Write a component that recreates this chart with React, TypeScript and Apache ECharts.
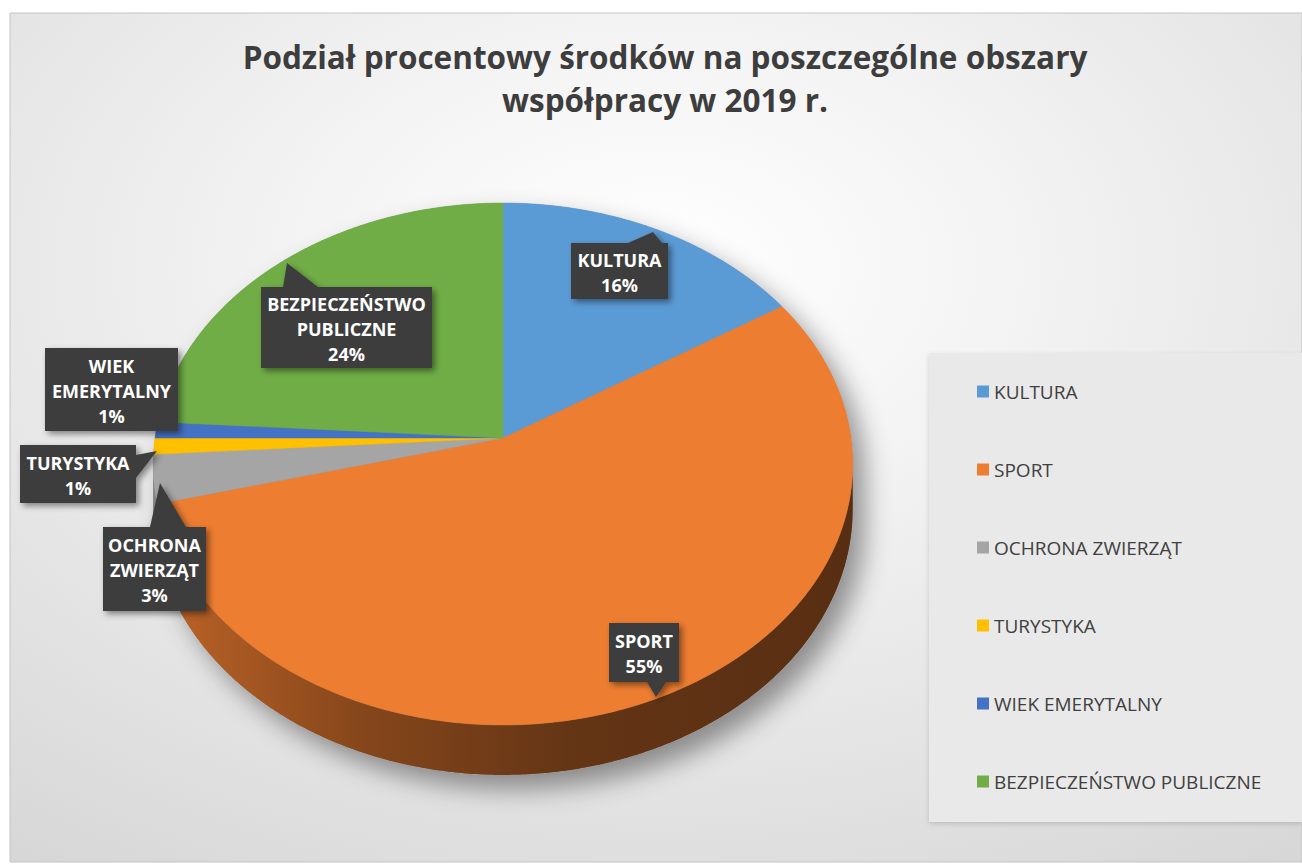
import React, { useEffect, useRef } from 'react';
import * as echarts from 'echarts';

const TITLE_LINES = ['Podział procentowy środków na poszczególne obszary', 'współpracy w 2019 r.'];
const CATEGORIES = ['KULTURA', 'SPORT', 'OCHRONA ZWIERZĄT', 'TURYSTYKA', 'WIEK EMERYTALNY', 'BEZPIECZEŃSTWO PUBLICZNE'];
const VALUES = [16, 55, 3, 1, 1, 24];
const COLORS = ['#5B9BD5', '#ED7D31', '#A5A5A5', '#FFC000', '#4472C4', '#70AD47'];

// callout layout (box x, y, w, h; pointer tip; pointer side and base span)
const CALLOUTS: any[] = [
  { box: [571, 243, 97, 56], tip: [653, 232], side: 'top', span: [628, 662] },
  { box: [609, 623, 70, 59], tip: [656, 697], side: 'bottom', span: [647, 666] },
  { box: [103, 527, 103, 84], tip: [160, 483], side: 'top', span: [150, 186] },
  { box: [20, 445, 116, 58], tip: [157, 451], side: 'right', span: [455, 478] },
  { box: [45, 348, 133, 83], tip: null, side: null, span: null },
  { box: [261, 287, 171, 81], tip: [287, 263], side: 'top', span: [283, 318] },
];

// 3D pie projection
const CX = 503, CY = 438, RX = 348, RY = 258.4, K = 0.0996, DEPTH = 45;
const SIL_R = 95.7, SIL_L = 264.3;

const TOTAL = VALUES.reduce((a, b) => a + b, 0);
const STARTS = VALUES.map((_, i) => VALUES.slice(0, i).reduce((a, b) => a + b, 0));

function P(deg: number, drop = 0): number[] {
  const t = (deg * Math.PI) / 180;
  const s = 1 / (1 + K * Math.cos(t));
  return [CX + RX * Math.sin(t) * s, CY - RY * Math.cos(t) * s + drop * s];
}

function arc(a0: number, a1: number, drop = 0): number[][] {
  const pts: number[][] = [];
  const n = Math.max(2, Math.ceil(Math.abs(a1 - a0) / 0.5));
  for (let k = 0; k <= n; k++) pts.push(P(a0 + ((a1 - a0) * k) / n, drop));
  return pts;
}

function shade(hex: string, f: number): string {
  const n = parseInt(hex.slice(1), 16);
  const r = Math.round(((n >> 16) & 255) * f);
  const g = Math.round(((n >> 8) & 255) * f);
  const b = Math.round((n & 255) * f);
  return `rgb(${r},${g},${b})`;
}

function calloutPoints(c: any): number[][] {
  const [x, y, w, h] = c.box;
  if (!c.tip) return [[x, y], [x + w, y], [x + w, y + h], [x, y + h]];
  const [s0, s1] = c.span;
  if (c.side === 'top') return [[x, y], [s0, y], c.tip, [s1, y], [x + w, y], [x + w, y + h], [x, y + h]];
  if (c.side === 'bottom') return [[x, y], [x + w, y], [x + w, y + h], [s1, y + h], c.tip, [s0, y + h], [x, y + h]];
  if (c.side === 'right') return [[x, y], [x + w, y], [x + w, s0], c.tip, [x + w, s1], [x + w, y + h], [x, y + h]];
  return [[x, y], [x + w, y], [x + w, y + h], [x, y + h], [x, s1], c.tip, [x, s0]];
}

function makeRender(i: number) {
  return (params: any, api: any) => {
    const v = api.value(0);
    const a0 = (STARTS[i] / TOTAL) * 360;
    const a1 = a0 + (v / TOTAL) * 360;
    const color = COLORS[i];
    const children: any[] = [];

    if (i === 0) {
      const sil = [...arc(SIL_L, 360 + SIL_R), ...arc(SIL_R, SIL_L, DEPTH)];
      children.push({
        type: 'polygon',
        z2: -5,
        shape: { points: sil },
        style: { fill: '#8a8a8a', shadowBlur: 26, shadowOffsetX: 12, shadowOffsetY: 14, shadowColor: 'rgba(0,0,0,0.4)' },
      });
    }

    const w0 = Math.max(a0, SIL_R);
    const w1 = Math.min(a1, SIL_L);
    if (w1 > w0) {
      const wallPts = [...arc(w0, w1), ...arc(w1, w0, DEPTH)];
      children.push({
        type: 'polygon',
        z2: 1,
        shape: { points: wallPts },
        style: {
          fill: {
            type: 'linear', global: true, x: CX - RX, y: 0, x2: CX + RX, y2: 0,
            colorStops: [
              { offset: 0, color: shade(color, 0.8) },
              { offset: 0.3, color: shade(color, 0.56) },
              { offset: 0.6, color: shade(color, 0.42) },
              { offset: 1, color: shade(color, 0.37) },
            ],
          },
        },
      });
    }

    const top = [[CX, CY], ...arc(a0, a1)];
    children.push({
      type: 'polygon',
      z2: 5,
      shape: { points: top },
      style: { fill: color, stroke: color, lineWidth: 0.5 },
    });

    const c = CALLOUTS[i];
    const pct = Math.round((v / TOTAL) * 100);
    const text = CATEGORIES[i].split(' ').join('\n') + '\n' + pct + '%';
    children.push({
      type: 'polygon',
      z2: 20,
      shape: { points: calloutPoints(c) },
      style: { fill: '#3e3e3e', shadowBlur: 6, shadowOffsetX: 3, shadowOffsetY: 3, shadowColor: 'rgba(0,0,0,0.45)' },
    });
    children.push({
      type: 'text',
      z2: 21,
      style: {
        text,
        x: c.box[0] + c.box[2] / 2,
        y: c.box[1] + c.box[3] / 2 + 1,
        align: 'center',
        verticalAlign: 'middle',
        textAlign: 'center',
        textVerticalAlign: 'middle',
        font: 'bold 18px "Open Sans"',
        lineHeight: 25,
        fill: '#ffffff',
      },
    });

    return { type: 'group', children };
  };
}

export default function App() {
  const ref = useRef<HTMLDivElement>(null);
  useEffect(() => {
    if (!ref.current) return;
    const chart = echarts.init(ref.current, null, { renderer: 'svg' });
    const option: any = {
      animation: false,
      color: COLORS,
      backgroundColor: '#ffffff',
      title: {
        text: TITLE_LINES.join('\n'),
        left: 660,
        top: 30,
        textAlign: 'center',
        textStyle: { fontFamily: 'Open Sans', fontWeight: 'bold', fontSize: 31.5, lineHeight: 43, color: '#3d3d3d' },
      },
      legend: {
        orient: 'vertical',
        left: 972,
        top: 377,
        itemWidth: 12,
        itemHeight: 12,
        itemGap: 59,
        icon: 'rect',
        selectedMode: false,
        data: CATEGORIES,
        textStyle: { fontFamily: 'Open Sans', fontSize: 19, color: '#404040' },
      },
      graphic: [
        {
          type: 'rect',
          z: -10,
          silent: true,
          shape: { x: 10, y: 13, width: 1292, height: 849 },
          style: {
            fill: {
              type: 'radial', x: 0.5, y: 0.3, r: 0.95,
              colorStops: [
                { offset: 0, color: '#ffffff' },
                { offset: 0.3, color: '#f3f3f3' },
                { offset: 1, color: '#d2d2d2' },
              ],
            },
            stroke: '#c4c4c4',
            lineWidth: 1,
          },
        },
        {
          type: 'rect',
          z: -5,
          silent: true,
          shape: { x: 929, y: 353, width: 373, height: 469 },
          style: { fill: '#e9e9e9', shadowBlur: 5, shadowColor: 'rgba(0,0,0,0.15)', shadowOffsetY: 2 },
        },
      ],
      series: CATEGORIES.map((name, i) => ({
        type: 'custom',
        name,
        coordinateSystem: 'none',
        silent: true,
        itemStyle: { color: COLORS[i] },
        data: [[VALUES[i]]],
        renderItem: makeRender(i),
      })),
    };
    chart.setOption(option);
    return () => chart.dispose();
  }, []);
  return <div ref={ref} style={{ position: 'fixed', left: 0, top: 0, width: 1302, height: 866 }} />;
}
